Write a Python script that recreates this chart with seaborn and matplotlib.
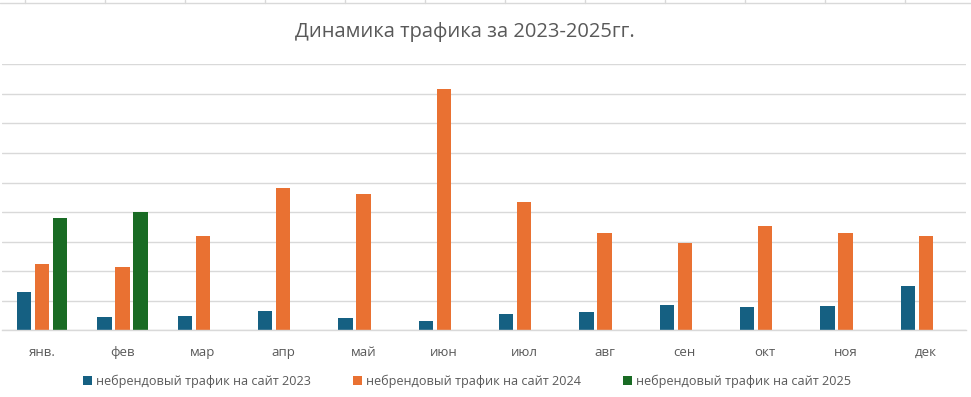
import numpy as np
import pandas as pd
import matplotlib
matplotlib.use("Agg")
import matplotlib.pyplot as plt
from matplotlib.lines import Line2D
import seaborn as sns

months = ["янв.", "фев", "мар", "апр", "май", "июн", "июл", "авг", "сен", "окт", "ноя", "дек"]
series_names = ["небрендовый трафик на сайт 2023",
                "небрендовый трафик на сайт 2024",
                "небрендовый трафик на сайт 2025"]
traffic_2023 = [1.30, 0.45, 0.48, 0.65, 0.42, 0.31, 0.55, 0.62, 0.86, 0.79, 0.82, 1.50]
traffic_2024 = [2.24, 2.14, 3.19, 4.82, 4.61, 8.17, 4.34, 3.29, 2.95, 3.53, 3.29, 3.19]
traffic_2025 = [3.80, 4.00]
title = "Динамика трафика за 2023-2025гг."
colors = ["#156082", "#E97132", "#196B24"]

rows = []
for name, vals in zip(series_names, [traffic_2023, traffic_2024, traffic_2025]):
    for m, v in zip(months, vals):
        rows.append({"month": m, "series": name, "value": v})
df = pd.DataFrame(rows)

sns.set_theme(style="white")
plt.rcParams["font.family"] = ["Open Sans", "DejaVu Sans"]

fig = plt.figure(figsize=(9.71, 3.97), dpi=100)
ax = fig.add_axes([2 / 971, 66.7 / 397, 964 / 971, 266 / 397])

sns.barplot(data=df, x="month", y="value", hue="series", order=months,
            hue_order=series_names, palette=colors, width=0.672, gap=0.22,
            errorbar=None, ax=ax, saturation=1, legend=True, linewidth=0)

ax.set_xlim(-0.5, 11.5)
ax.set_ylim(0, 9)
ax.set_yticks(np.arange(0, 10, 1))
ax.yaxis.grid(True, color="#D9D9D9", linewidth=1.0)
ax.set_axisbelow(True)
ax.tick_params(axis="y", left=False, labelleft=False)
ax.tick_params(axis="x", bottom=False, labelsize=9.5, labelcolor="#595959", pad=5)
for s in ["top", "right", "left"]:
    ax.spines[s].set_visible(False)
ax.spines["bottom"].set_color("#D9D9D9")
ax.spines["bottom"].set_linewidth(1.0)
ax.set_xlabel("")
ax.set_ylabel("")

handles, labels = ax.get_legend_handles_labels()
ax.legend_.remove()
fig.legend(handles, labels, loc="center", bbox_to_anchor=(467 / 971, 1 - 381.5 / 397),
           ncol=3, frameon=False, fontsize=9.1, labelcolor="#595959",
           handlelength=0.75, handleheight=0.75, handletextpad=0.3, columnspacing=3.3)

fig.text(465 / 971, 1 - 32 / 397, title, ha="center", va="center",
         fontsize=14.5, color="#595959")

# spreadsheet cell borders visible at top of the crop
ytop = 1 - 3.3 / 397
fig.add_artist(Line2D([0, 1], [ytop, ytop], transform=fig.transFigure, color="#D9D9D9", lw=1))
for xv in range(25, 971, 80):
    fig.add_artist(Line2D([xv / 971, xv / 971], [ytop, 1], transform=fig.transFigure,
                          color="#D9D9D9", lw=1))

fig.savefig("out.png", dpi=100, facecolor="white")
